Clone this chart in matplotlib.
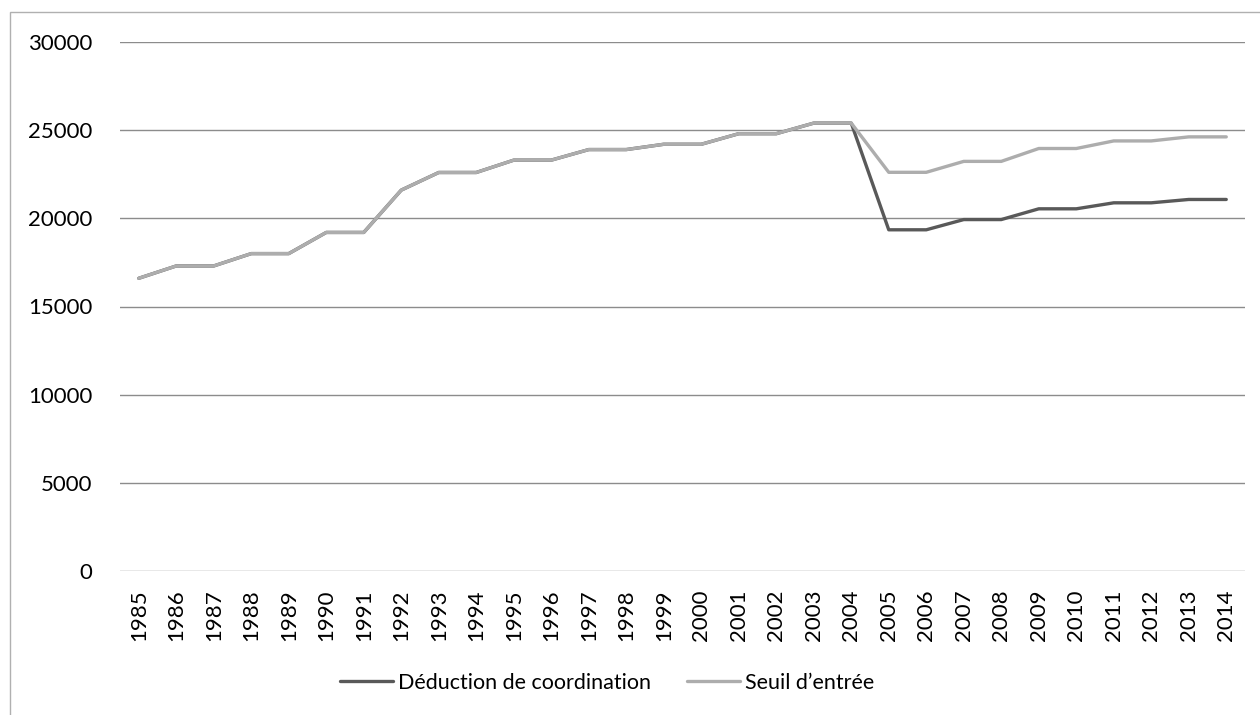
import matplotlib
matplotlib.use("Agg")
import matplotlib.pyplot as plt
from matplotlib.patches import Rectangle

years = [str(y) for y in range(1985, 2015)]
deduction = [16600, 17300, 17300, 18000, 18000, 19200, 19200, 21600, 22600, 22600,
             23300, 23300, 23900, 23900, 24200, 24200, 24800, 24800, 25400, 25400,
             19350, 19350, 19930, 19930, 20540, 20540, 20880, 20880, 21070, 21070]
seuil = [16600, 17300, 17300, 18000, 18000, 19200, 19200, 21600, 22600, 22600,
         23300, 23300, 23900, 23900, 24200, 24200, 24800, 24800, 25400, 25400,
         22610, 22610, 23230, 23230, 23960, 23960, 24390, 24390, 24620, 24620]
yticks = [0, 5000, 10000, 15000, 20000, 25000, 30000]

plt.rcParams['font.family'] = ['Lato', 'DejaVu Sans']

W, H = 1260, 715
fig = plt.figure(figsize=(W / 100, H / 100), dpi=100)
ax = fig.add_axes([120 / W, 1 - 571 / H, (1245 - 120) / W, (571 - 42) / H])

x = list(range(len(years)))
ax.plot(x, deduction, color='#595959', lw=2.4, solid_capstyle='round',
        label='Déduction de coordination', zorder=3)
ax.plot(x, seuil, color='#ADADAD', lw=2.4, solid_capstyle='round',
        label="Seuil d\u2019entrée", zorder=4)

ax.set_xlim(-0.5, len(years) - 0.5)
ax.set_ylim(0, 30000)
ax.set_yticks(yticks)
ax.set_yticklabels([str(v) for v in yticks], fontsize=16)
ax.set_xticks(x)
ax.set_xticklabels(years, rotation=90, fontsize=16)
ax.tick_params(axis='both', length=0)
ax.tick_params(axis='y', pad=20)
ax.tick_params(axis='x', pad=13)
ax.grid(axis='y', color='#8c8c8c', lw=1)
ax.set_axisbelow(True)
for s in ax.spines.values():
    s.set_visible(False)

fig.legend(loc='center', bbox_to_anchor=(607 / W, 1 - 683 / H), ncol=2, frameon=False,
           fontsize=15.5, handlelength=2.45, handletextpad=0.23, columnspacing=1.7)

fig.patches.append(Rectangle((10 / W, -0.1), 1.2, 1 - 12 / H + 0.1, transform=fig.transFigure,
                             fill=False, edgecolor='#b0b0b0', lw=1))

fig.savefig('out.png', dpi=100)
